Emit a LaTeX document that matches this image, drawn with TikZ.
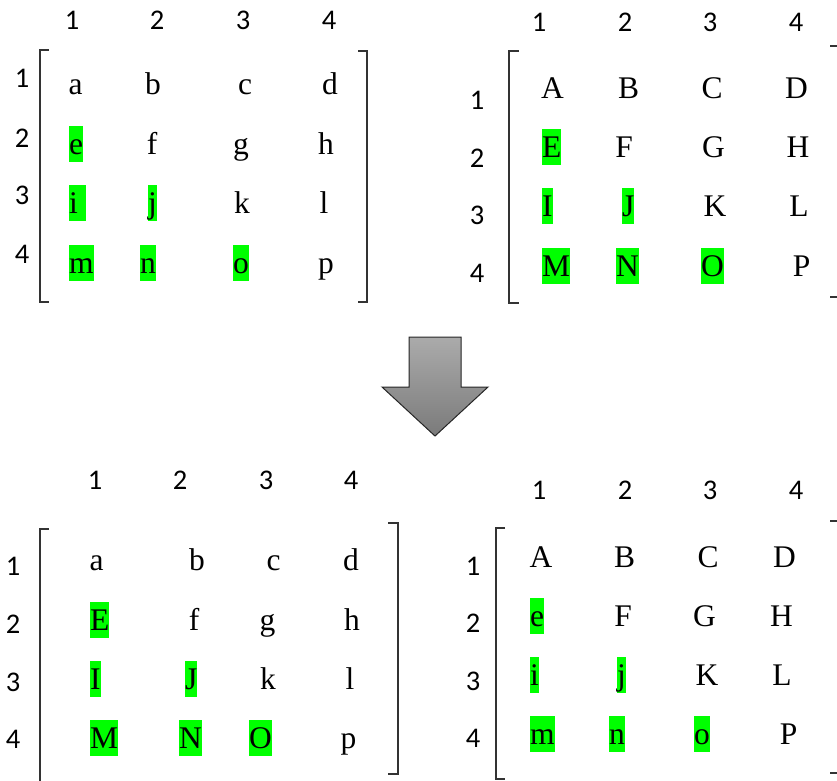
\documentclass[tikz,border=0pt]{standalone}
\usepackage{fontspec}
\setmainfont{Liberation Serif}
\newfontfamily\numfont{Carlito}
\begin{document}
\begin{tikzpicture}[x=1pt,y=-1pt,
  entry/.style={inner sep=0pt,anchor=base,font=\fontsize{31.5}{36}\selectfont},
  hl/.style={inner sep=0pt,anchor=base west,fill=hlgreen,text height=28pt,text depth=8pt,
             font=\fontsize{31.5}{36}\selectfont},
  idx/.style={inner sep=0pt,anchor=base,font=\numfont\fontsize{28.5}{32}\selectfont},
  bracket/.style={draw=black!80,line width=1.4pt},
  bigarrow/.style={draw=black!85,line width=1pt,top color=black!33,bottom color=black!52}]
\definecolor{hlgreen}{RGB}{0,255,0}
\useasboundingbox (0,0) rectangle (837,780);

% ---------- upper left matrix ----------
\foreach \x [count=\i] in {72,157,243,329} \node[idx] (ulc\i) at (\x,29) {\i};
\foreach \y [count=\i] in {87,147,204,263} \node[idx] (ulr\i) at (22,\y) {\i};
\draw[bracket] (49,50) -- (40,50) -- (40,302) -- (49,302);
\draw[bracket] (358,51) -- (367,51) -- (367,302) -- (358,302);
\foreach \x/\y/\t/\n in {75.5/94/a/a,153/94/b/b,245/94/c/c,330/94/d/d,
                         152/154/f/f,241/154/g/g,326/154/h/h,
                         242/213/k/k,324/213/l/l,326/273/p/p}
  \node[entry] (ul-\n) at (\x,\y) {\t};
\foreach \x/\y/\t/\n in {69/154/e/e,69/213/{i\kern8pt}/i,148/213/j/j,
                         69/273/m/m,140/273/n/n,233/273/o/o}
  \node[hl] (ul-\n) at (\x,\y) {\t};

% ---------- upper right matrix ----------
\foreach \x [count=\i] in {539,625,710,796} \node[idx] (urc\i) at (\x,31) {\i};
\foreach \y [count=\i] in {109,167,224,282} \node[idx] (urr\i) at (477,\y) {\i};
\draw[bracket] (519,51) -- (509,51) -- (509,303) -- (519,303);
\draw[bracket] (830,46) -- (838,46) -- (838,297) -- (830,297);
\foreach \x/\y/\t in {552.5/98/A,628.5/98/B,712/98/C,796.5/98/D,
                      624/157/F,713.5/157/G,798/157/H,
                      715/216/K,799/216/L,801.5/276/P}
  \node[entry] (ur-\t) at (\x,\y) {\t};
\foreach \x/\y/\t in {542/157/E,542/216/I,622/216/J,
                      542/276/M,616/276/N,701/276/O}
  \node[hl] (ur-\t) at (\x,\y) {\t};

% ---------- arrow ----------
\draw[bigarrow] (409,337) -- (461,337) -- (461,387) -- (488,387) -- (435,436)
  -- (382,387) -- (409,387) -- cycle;

% ---------- lower left matrix ----------
\foreach \x [count=\i] in {95,180,266,351} \node[idx] (llc\i) at (\x,489) {\i};
\foreach \y [count=\i] in {575,633,691,748} \node[idx] (llr\i) at (13,\y) {\i};
\draw[bracket] (49,529) -- (40,529) -- (40,790);
\draw[bracket] (388,523) -- (398,523) -- (398,774) -- (388,774);
\foreach \x/\y/\t/\n in {96.5/570/a/a,197/570/b/b,273.5/570/c/c,351/570/d/d,
                         194/630/f/f,267.5/630/g/g,352/630/h/h,
                         268/689/k/k,350/689/l/l,348.5/748/p/p}
  \node[entry] (ll-\n) at (\x,\y) {\t};
\foreach \x/\y/\t/\n in {90/630/E/e,90/689/I/i,185/689/J/j,
                         90/748/M/m,179/748/N/n,249/748/O/o}
  \node[hl] (ll-\n) at (\x,\y) {\t};

% ---------- lower right matrix ----------
\foreach \x [count=\i] in {539,625,710,796} \node[idx] (lrc\i) at (\x,499) {\i};
\foreach \y [count=\i] in {575,632,690,747} \node[idx] (lrr\i) at (473,\y) {\i};
\draw[bracket] (505,528) -- (496,528) -- (496,779) -- (505,779);
\draw[bracket] (830,521) -- (838,521) -- (838,773) -- (830,773);
\foreach \x/\y/\t in {541/567/A,624.5/567/B,708/567/C,784.5/567/D,
                      623/626/F,704.5/626/G,781.5/626/H,
                      707/685/K,782/685/L,788.5/744/P}
  \node[entry] (lr-\t) at (\x,\y) {\t};
\foreach \x/\y/\t in {530/626/e,530/685/i,617/685/j,
                      530/744/m,609/744/n,694/744/o}
  \node[hl] (lr-\t) at (\x,\y) {\t};
\end{tikzpicture}
\end{document}
